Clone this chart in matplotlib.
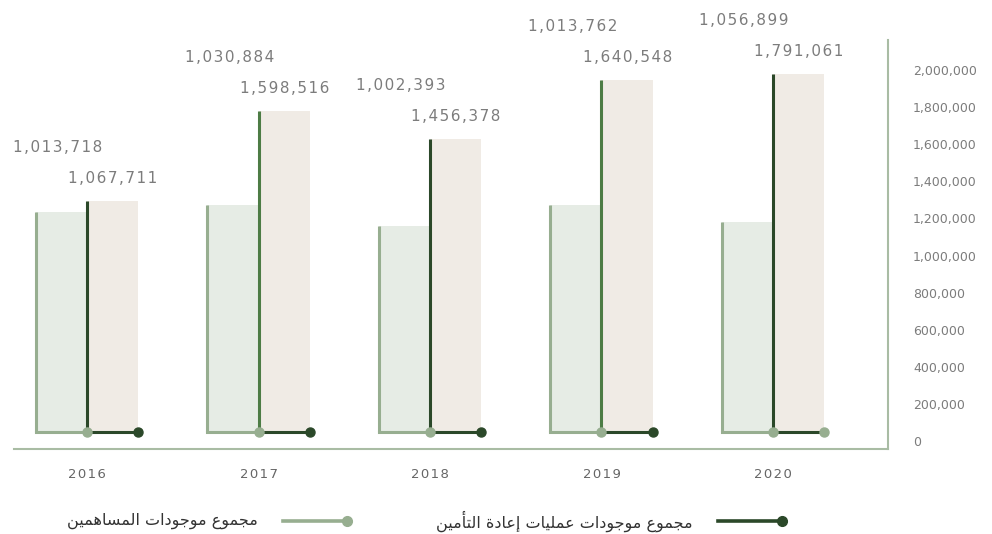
import matplotlib
matplotlib.use("Agg")
import matplotlib.pyplot as plt
from matplotlib.lines import Line2D
import numpy as np

# ---------------- data ----------------
years = ["2016", "2017", "2018", "2019", "2020"]
shareholders_bar = [1234000, 1272000, 1159000, 1272000, 1181000]
reinsurance_bar = [1294000, 1779000, 1628000, 1946000, 1978000]
shareholders_labels = ["1,013,718", "1,030,884", "1,002,393", "1,013,762", "1,056,899"]
reinsurance_labels = ["1,067,711", "1,598,516", "1,456,378", "1,640,548", "1,791,061"]
y_ticks = [0, 200000, 400000, 600000, 800000, 1000000, 1200000, 1400000,
           1600000, 1800000, 2000000]
legend_shareholders = "مجموع موجودات المساهمين"
legend_reinsurance = "مجموع موجودات عمليات إعادة التأمين"

# ---------------- simple Arabic shaping ----------------
FORMS = {
    '\u0627': ('\uFE8D', '\uFE8E', None, None),
    '\u0623': ('\uFE83', '\uFE84', None, None),
    '\u0625': ('\uFE87', '\uFE88', None, None),
    '\u0628': ('\uFE8F', '\uFE90', '\uFE91', '\uFE92'),
    '\u0629': ('\uFE93', '\uFE94', None, None),
    '\u062A': ('\uFE95', '\uFE96', '\uFE97', '\uFE98'),
    '\u062C': ('\uFE9D', '\uFE9E', '\uFE9F', '\uFEA0'),
    '\u062F': ('\uFEA9', '\uFEAA', None, None),
    '\u0633': ('\uFEB1', '\uFEB2', '\uFEB3', '\uFEB4'),
    '\u0639': ('\uFEC9', '\uFECA', '\uFECB', '\uFECC'),
    '\u0644': ('\uFEDD', '\uFEDE', '\uFEDF', '\uFEE0'),
    '\u0645': ('\uFEE1', '\uFEE2', '\uFEE3', '\uFEE4'),
    '\u0646': ('\uFEE5', '\uFEE6', '\uFEE7', '\uFEE8'),
    '\u0647': ('\uFEE9', '\uFEEA', '\uFEEB', '\uFEEC'),
    '\u0648': ('\uFEED', '\uFEEE', None, None),
    '\u064A': ('\uFEF1', '\uFEF2', '\uFEF3', '\uFEF4'),
}


def shape(text):
    out = []
    n = len(text)
    for i, ch in enumerate(text):
        if ch not in FORMS:
            out.append(ch)
            continue
        f = FORMS[ch]
        prev = text[i - 1] if i > 0 else None
        nxt = text[i + 1] if i < n - 1 else None
        jp = prev in FORMS and FORMS[prev][2] is not None
        jn = f[2] is not None and nxt in FORMS
        if jp and jn:
            out.append(f[3])
        elif jp:
            out.append(f[1])
        elif jn:
            out.append(f[2])
        else:
            out.append(f[0])
    return "".join(out)[::-1]


def spaced(s):
    return "\u200a".join(s)


# ---------------- style ----------------
LIGHT_LINE = "#97ae90"
LIGHT_FILL = "#e6ece5"
DARK_LINE = "#2b4829"
BEIGE_FILL = "#f0ebe5"
DARK_VLINE = ["#2b4829", "#4d7c45", "#2b4829", "#4d7c45", "#2b4829"]
END_DOT = [DARK_LINE, DARK_LINE, DARK_LINE, DARK_LINE, LIGHT_LINE]
SPINE = "#a9bca4"
TXT = "#7c7c7c"
BASE = 50000
W = 0.30

fig = plt.figure(figsize=(9.92, 5.34), dpi=100)
W_PX, H_PX = 992, 534
ax = fig.add_axes([14 / W_PX, 1 - 449 / H_PX, (888 - 14) / W_PX, (449 - 40) / H_PX])

x = np.arange(len(years))
ax.set_xlim(-0.4257, 4.6706)
ax.set_ylim(-43100, 2162000)

for i in range(len(years)):
    xl = x[i] - W
    xc = x[i]
    xr = x[i] + W
    hs = shareholders_bar[i]
    hr = reinsurance_bar[i]
    ax.bar(xl, hs - BASE, bottom=BASE, width=W, align="edge", color=LIGHT_FILL, zorder=1)
    ax.bar(xc, hr - BASE, bottom=BASE, width=W, align="edge", color=BEIGE_FILL, zorder=1)
    ax.plot([xl, xl], [BASE, hs], color=LIGHT_LINE, lw=2.2, zorder=2, solid_capstyle="butt")
    ax.plot([xl, xc], [BASE, BASE], color=LIGHT_LINE, lw=2.2, zorder=2)
    ax.plot([xc, xr], [BASE, BASE], color=DARK_LINE, lw=2.2, zorder=2)
    ax.plot([xc, xc], [BASE, hr], color=DARK_VLINE[i], lw=2.2, zorder=3, solid_capstyle="butt")
    ax.plot([xc], [BASE], "o", color=LIGHT_LINE, ms=6.5, zorder=4)
    ax.plot([xr], [BASE], "o", color=END_DOT[i], ms=6.5, zorder=4)
    ax.annotate(spaced(reinsurance_labels[i]), (xc + W / 2, hr), xytext=(0, 16),
                textcoords="offset points", ha="center", va="center",
                fontsize=11, color=TXT)
    ax.annotate(spaced(shareholders_labels[i]), (xl + W / 2 - 0.02, hr), xytext=(0, 38.5),
                textcoords="offset points", ha="center", va="center",
                fontsize=11, color=TXT)

ax.set_xticks(x)
ax.set_xticklabels([spaced(y) for y in years])
ax.set_yticks(y_ticks)
ax.set_yticklabels([f"{v:,}" for v in y_ticks])
ax.yaxis.tick_right()
ax.tick_params(axis="y", length=0, pad=18, labelsize=9, labelcolor=TXT)
ax.tick_params(axis="x", length=0, pad=14, labelsize=9.5, labelcolor="#666666")
for side in ["left", "top"]:
    ax.spines[side].set_visible(False)
for side in ["right", "bottom"]:
    ax.spines[side].set_color(SPINE)
    ax.spines[side].set_linewidth(1.5)

# ---------------- legend (manual, RTL) ----------------
def fx(px):
    return px / W_PX


def fy(py):
    return 1 - py / H_PX


ly = 521
for (x0, x1, col, label, tx) in [
    (283, 350, LIGHT_LINE, legend_shareholders, 258),
    (718, 785, DARK_LINE, legend_reinsurance, 693),
]:
    fig.add_artist(Line2D([fx(x0), fx(x1 - 3)], [fy(ly), fy(ly)], color=col, lw=2.6,
                          transform=fig.transFigure))
    fig.add_artist(Line2D([fx(x1 - 3)], [fy(ly)], marker="o", ms=7, color=col,
                          transform=fig.transFigure))
    fig.text(fx(tx), fy(ly), shape(label), ha="right", va="center", fontsize=11.5,
             color="#333333", family="DejaVu Sans")

fig.savefig("out.png", dpi=100)
